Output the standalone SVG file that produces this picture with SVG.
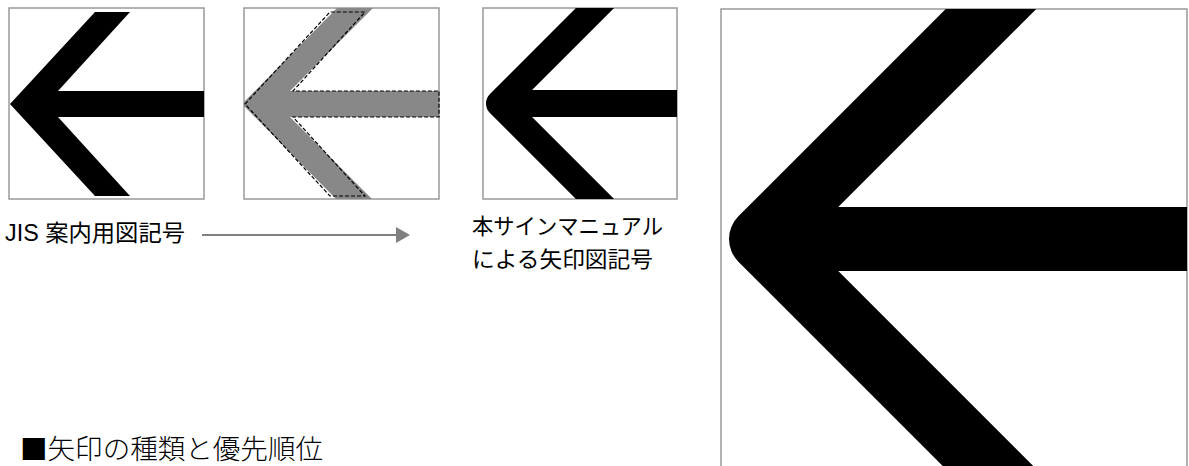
<svg xmlns="http://www.w3.org/2000/svg" width="1189" height="466" viewBox="0 0 1189 466">
  <style>
    .frame { fill: #fff; stroke: #999; stroke-width: 1.5; }
    .lbl { font-family: "Liberation Sans", "Noto Sans CJK JP", sans-serif; fill: #000; }
    .arr { fill: none; stroke: #000; stroke-linejoin: round; }
    .title { font-family: "Noto Sans CJK JP", "Liberation Serif", serif; font-weight: 300; fill: #000; }
  </style>
  <defs>
    <clipPath id="c3"><rect x="483" y="8" width="194" height="191"/></clipPath>
    <clipPath id="c2"><rect x="244" y="8" width="195" height="191"/></clipPath>
    <clipPath id="c4"><rect x="721" y="9" width="466" height="460"/></clipPath>
    <marker id="ah" markerWidth="14" markerHeight="16" refX="0" refY="8" orient="auto" markerUnits="userSpaceOnUse">
      <path d="M0,0 L14,8 L0,16 Z" fill="#808080"/>
    </marker>
  </defs>
  <rect width="1189" height="466" fill="#fff"/>

  <g id="jis-symbol">
    <rect class="frame" x="9" y="8" width="195" height="191"/>
    <polygon points="10,104 95,12 130,12 58,91 204,91 204,117 58,117 130,196 95,196" fill="#000"/>
  </g>

  <g id="comparison">
    <rect class="frame" x="244" y="8" width="195" height="191"/>
    <g clip-path="url(#c2)">
      <polygon points="244,102 337,8 373,8 290,91 439,91 439,117 290,117 372,199 336,199 244,106" fill="#888"/>
    </g>
    <polygon points="245,104 330,12 365,12 293,91 439,91 439,117 293,117 365,196 330,196" fill="none" stroke="#000" stroke-width="1.2" stroke-dasharray="4 2"/>
  </g>

  <g id="manual-symbol">
    <rect class="frame" x="483" y="8" width="194" height="191"/>
    <g clip-path="url(#c3)">
      <polyline class="arr" stroke-width="27" points="620,-17 499.5,103.5 620,224"/>
      <line x1="499.5" y1="103.5" x2="680" y2="103.5" stroke="#000" stroke-width="27"/>
    </g>
  </g>

  <g id="manual-symbol-large">
    <rect class="frame" x="721" y="9" width="466" height="460"/>
    <g clip-path="url(#c4)">
      <polyline class="arr" stroke-width="64" points="1030,-30 761,239 1030,508"/>
      <line x1="761" y1="239" x2="1189" y2="239" stroke="#000" stroke-width="64"/>
    </g>
  </g>

  <g id="label-jis">
    <text class="lbl" x="5" y="241" font-size="23" textLength="180" lengthAdjust="spacingAndGlyphs">JIS 案内用図記号</text>
  </g>

  <g id="label-manual">
    <text class="lbl" x="472" y="234" font-size="22" textLength="191" lengthAdjust="spacingAndGlyphs">本サインマニュアル</text>
    <text class="lbl" x="472" y="267" font-size="22" textLength="181" lengthAdjust="spacingAndGlyphs">による矢印図記号</text>
  </g>

  <g id="connectors">
    <line x1="202" y1="235" x2="396" y2="235" stroke="#808080" stroke-width="2" marker-end="url(#ah)"/>
  </g>

  <g id="heading">
    <text class="title" x="20" y="459" font-size="27.5" textLength="303" lengthAdjust="spacingAndGlyphs">■矢印の種類と優先順位</text>
  </g>
</svg>
